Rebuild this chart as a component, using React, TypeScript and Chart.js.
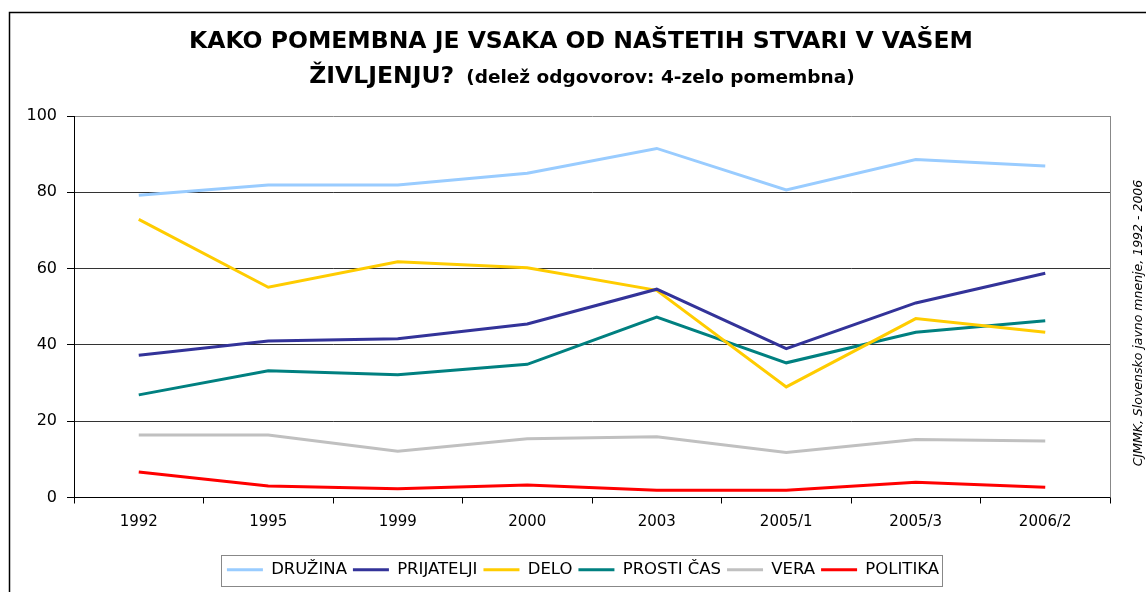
import { useEffect, useRef } from 'react';
import { Chart, registerables } from 'chart.js';

Chart.register(...registerables);

const categories = ['1992', '1995', '1999', '2000', '2003', '2005/1', '2005/3', '2006/2'];
const druzina = [79.2, 81.9, 81.9, 85.0, 91.5, 80.6, 88.6, 86.9];
const prijatelji = [37.3, 41.0, 41.6, 45.5, 54.6, 39.0, 51.0, 58.8];
const delo = [72.9, 55.1, 61.8, 60.2, 54.3, 29.0, 46.9, 43.3];
const prostiCas = [26.9, 33.2, 32.2, 34.9, 47.3, 35.3, 43.3, 46.3];
const vera = [16.4, 16.4, 12.1, 15.4, 15.9, 11.8, 15.2, 14.8];
const politika = [6.7, 3.0, 2.3, 3.3, 1.9, 1.9, 4.0, 2.7];

const seriesNames = ['DRUŽINA', 'PRIJATELJI', 'DELO', 'PROSTI ČAS', 'VERA', 'POLITIKA'];
const seriesColors = ['#99CCFF', '#333399', '#FFCC00', '#008080', '#C0C0C0', '#FF0000'];
const seriesValues = [druzina, prijatelji, delo, prostiCas, vera, politika];

const titleLine1 = 'KAKO POMEMBNA JE VSAKA OD NAŠTETIH STVARI V VAŠEM';
const titleLine2a = 'ŽIVLJENJU?';
const titleLine2b = '(delež odgovorov: 4-zelo pomembna)';
const sourceText = 'CJMMK, Slovensko javno mnenje, 1992 - 2006';

const FONT = '"DejaVu Sans", "Liberation Sans", Arial, sans-serif';

const decorPlugin = {
  id: 'decor',
  beforeDraw(chart: any) {
    const ctx = chart.ctx;
    ctx.save();
    ctx.fillStyle = '#ffffff';
    ctx.fillRect(0, 0, chart.width, chart.height);
    ctx.strokeStyle = '#000000';
    ctx.lineWidth = 1.5;
    ctx.beginPath();
    ctx.moveTo(9.5, chart.height + 5);
    ctx.lineTo(9.5, 12.5);
    ctx.lineTo(chart.width + 5, 12.5);
    ctx.stroke();
    ctx.restore();
  },
  afterDraw(chart: any) {
    const ctx = chart.ctx;
    const area = chart.chartArea;
    ctx.save();
    // right border of plot
    ctx.strokeStyle = '#888888';
    ctx.lineWidth = 1;
    ctx.beginPath();
    ctx.moveTo(Math.round(area.right) + 0.5, area.top);
    ctx.lineTo(Math.round(area.right) + 0.5, area.bottom);
    ctx.stroke();

    // title
    ctx.fillStyle = '#000000';
    ctx.textBaseline = 'alphabetic';
    ctx.textAlign = 'center';
    ctx.font = `bold 23.5px ${FONT}`;
    ctx.fillText(titleLine1, 581, 48);
    ctx.font = `bold 23.5px ${FONT}`;
    const wa = ctx.measureText(titleLine2a).width;
    ctx.font = `bold 18.5px ${FONT}`;
    const wb = ctx.measureText(titleLine2b).width;
    const gap = 12;
    const startX = 582 - (wa + gap + wb) / 2;
    ctx.textAlign = 'left';
    ctx.font = `bold 23.5px ${FONT}`;
    ctx.fillText(titleLine2a, startX, 83);
    ctx.font = `bold 18.5px ${FONT}`;
    ctx.fillText(titleLine2b, startX + wa + gap, 83);

    // source text, rotated
    ctx.save();
    ctx.translate(1142, 323);
    ctx.rotate(-Math.PI / 2);
    ctx.textAlign = 'center';
    ctx.font = `oblique 12.5px ${FONT}`;
    ctx.fillText(sourceText, 0, 0);
    ctx.restore();

    // legend border
    const lg = chart.legend;
    if (lg && lg.legendHitBoxes && lg.legendHitBoxes.length) {
      const hb = lg.legendHitBoxes;
      let l = Infinity, r = -Infinity, t = Infinity, b = -Infinity;
      hb.forEach((h: any) => {
        l = Math.min(l, h.left);
        r = Math.max(r, h.left + h.width);
        t = Math.min(t, h.top);
        b = Math.max(b, h.top + h.height);
      });
      ctx.strokeStyle = '#888888';
      ctx.lineWidth = 1;
      ctx.strokeRect(Math.round(l - 6) + 0.5, Math.round(t - 7) + 0.5, Math.round(r - l + 9), Math.round(b - t + 14));
    }
    ctx.restore();
  },
};

export default function App() {
  const ref = useRef<HTMLCanvasElement | null>(null);

  useEffect(() => {
    if (!ref.current) return;
    const chart = new Chart(ref.current, {
      type: 'line',
      data: {
        labels: categories,
        datasets: seriesNames.map((name, i) => ({
          label: name,
          data: seriesValues[i],
          borderColor: seriesColors[i],
          backgroundColor: seriesColors[i],
          borderWidth: 3,
          pointRadius: 0,
          pointHoverRadius: 0,
          tension: 0,
          fill: false,
        })),
      },
      options: {
        animation: false,
        responsive: false,
        devicePixelRatio: 1,
        layout: { padding: { top: 116, left: 20, right: 0, bottom: 4 } },
        plugins: {
          title: { display: false },
          tooltip: { enabled: false },
          legend: {
            display: true,
            position: 'bottom',
            labels: {
              usePointStyle: true,
              pointStyle: 'line',
              pointStyleWidth: 36,
              color: '#000000',
              padding: 6,
              font: { family: FONT, size: 16.5 },
            },
          },
        },
        scales: {
          x: {
            type: 'category',
            offset: true,
            grid: {
              display: true,
              drawOnChartArea: false,
              offset: true,
              tickLength: 6,
              color: '#000000',
            },
            border: { display: true, color: '#000000', width: 1 },
            ticks: {
              color: '#000000',
              padding: 10,
              maxRotation: 0,
              font: { family: FONT, size: 15 },
            },
            afterFit: (s: any) => { s.height = 58; },
          },
          y: {
            min: 0,
            max: 100,
            ticks: {
              stepSize: 20,
              color: '#000000',
              padding: 10,
              font: { family: FONT, size: 16 },
            },
            grid: {
              color: (c: any) => (c.tick && c.tick.value === 100 ? '#888888' : '#333333'),
              tickColor: '#000000',
              tickLength: 7,
              lineWidth: 1,
            },
            border: { display: true, color: '#000000', width: 1 },
            afterFit: (s: any) => { s.width = 54; },
          },
          y2: {
            position: 'right',
            display: true,
            grid: { display: false, drawTicks: false },
            ticks: { display: false },
            border: { display: false },
            afterFit: (s: any) => { s.width = 36; },
          },
        },
      },
      plugins: [decorPlugin],
    });
    return () => chart.destroy();
  }, []);

  return (
    <div style={{ position: 'absolute', left: 0, top: 0, width: 1146, height: 592, background: '#fff' }}>
      <canvas ref={ref} width={1146} height={592} style={{ display: 'block', width: 1146, height: 592 }} />
    </div>
  );
}
